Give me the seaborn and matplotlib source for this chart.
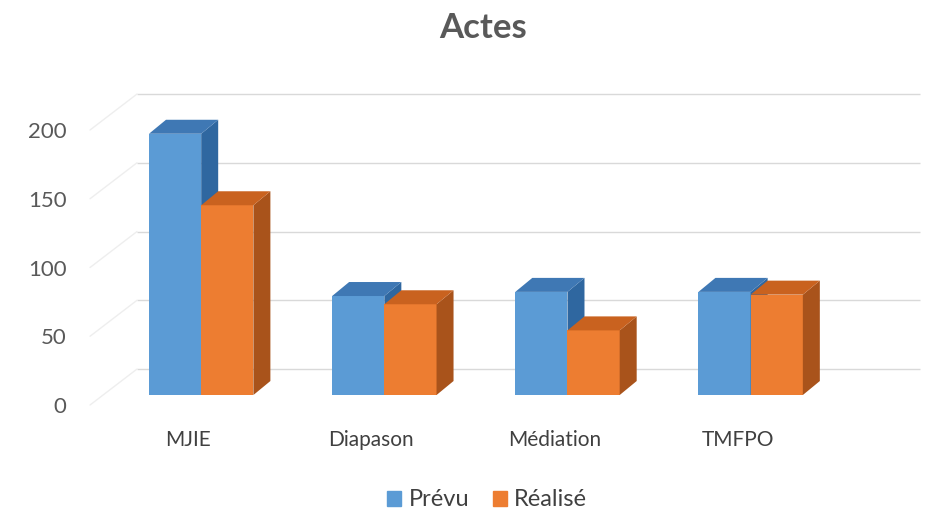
import numpy as np
import pandas as pd
import seaborn as sns
import matplotlib
matplotlib.use("Agg")
import matplotlib.pyplot as plt
from matplotlib import transforms
from matplotlib.patches import Polygon

# data
categories = ["MJIE", "Diapason", "Médiation", "TMFPO"]
prevu = [190, 72, 75, 75]
realise = [138, 66, 47, 73]
series = ["Prévu", "Réalisé"]
yticks = [0, 50, 100, 150, 200]

df = pd.DataFrame({
    "cat": categories * 2,
    "val": prevu + realise,
    "serie": [series[0]] * 4 + [series[1]] * 4,
})

front = ["#5b9bd5", "#ed7d31"]
top_col = ["#3f78b4", "#c9621f"]
side_col = ["#2f67a0", "#a9531b"]
text_col = "#595959"

sns.set_style("white")
plt.rcParams["font.family"] = ["Lato", "DejaVu Sans"]

fig = plt.figure(figsize=(9.29, 5.18), dpi=100)
ax = fig.add_axes([0.0969, 0.2181, 0.843, 0.584])

sns.barplot(data=df, x="cat", y="val", hue="serie", palette=front,
            width=0.57, saturation=1, errorbar=None, legend=False, ax=ax)

ax.set_xlim(-0.536, 3.74)
ax.set_ylim(0, 220)
for s in ax.spines.values():
    s.set_visible(False)
ax.set_xlabel("")
ax.set_ylabel("")
ax.set_yticks(yticks)
ax.tick_params(axis="y", length=0, pad=17, labelsize=16, labelcolor=text_col)
ax.tick_params(axis="x", length=0, pad=18, labelsize=15, labelcolor="#404040")

fig.canvas.draw()
p0, p1 = ax.transData.transform([[0, 0], [1, 1]])
ux, uy = p1 - p0  # pixels per data unit

# 3d-ish depth offsets (pixels)
floor = transforms.offset_copy(ax.transData, fig=fig, x=13, y=10, units="dots")
wall = transforms.offset_copy(ax.transData, fig=fig, x=47, y=36, units="dots")
ddx, ddy = 17 / ux, 14 / uy

x0, x1 = ax.get_xlim()
ax.hlines(yticks, x0, x1, transform=wall, color="#d9d9d9", lw=1, zorder=0, clip_on=False)
for t in yticks:
    ax.plot([x0, x0 + 47 / ux], [t, t + 36 / uy], color="#eeeeee", lw=1,
            zorder=0, clip_on=False)

for i, cont in enumerate(ax.containers):
    for p in cont.patches:
        p.set_transform(floor)
        p.set_zorder(2 + 2 * i)
        p.set_edgecolor("none")
        bx, bw, h = p.get_x(), p.get_width(), p.get_height()
        side = [(bx + bw, 0), (bx + bw + ddx, ddy), (bx + bw + ddx, h + ddy), (bx + bw, h)]
        top = [(bx, h), (bx + bw, h), (bx + bw + ddx, h + ddy), (bx + ddx, h + ddy)]
        ax.add_patch(Polygon(side, closed=True, facecolor=side_col[i], edgecolor="none",
                             transform=floor, zorder=2.5 + 2 * i, clip_on=False))
        ax.add_patch(Polygon(top, closed=True, facecolor=top_col[i], edgecolor="none",
                             transform=floor, zorder=2.6 + 2 * i, clip_on=False))

fig.text(483 / 929, 1 - 28 / 518, "Actes", ha="center", va="center",
         fontsize=25, fontweight="bold", color=text_col)

handles = [plt.Rectangle((0, 0), 1, 1, color=c) for c in front]
fig.legend(handles, series, loc="center", bbox_to_anchor=(487 / 929, 1 - 500 / 518),
           ncol=2, frameon=False, fontsize=17, handlelength=0.6, handleheight=0.6,
           handletextpad=0.3, columnspacing=1.0, labelcolor="#404040")

fig.savefig("out.png", dpi=100)
